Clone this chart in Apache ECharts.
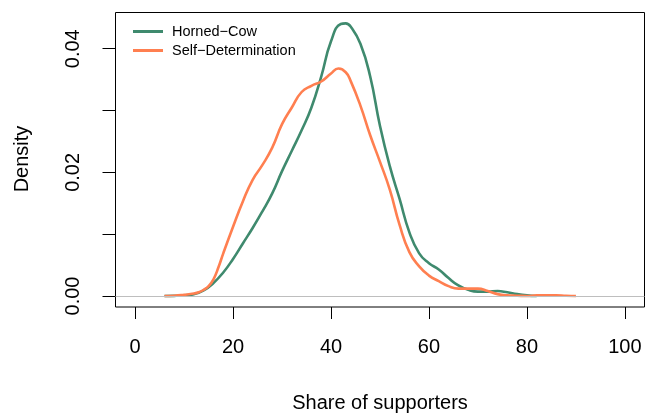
<!DOCTYPE html>
<html>
<head>
<meta charset="utf-8">
<script src="https://cdn.jsdelivr.net/npm/echarts@6/dist/echarts.min.js"></script>
<style>
html,body{margin:0;padding:0;background:#fff;}
#chart{width:647px;height:414px;}
</style>
</head>
<body>
<div id="chart"></div>
<script>
// ---- data ----
const seriesNames = ["Horned\u2212Cow", "Self\u2212Determination"];
const hornedCowX = [6, 8, 10, 12, 14, 16, 18, 20, 22, 24, 26, 28, 30, 32, 34, 36, 38, 40, 42, 43, 44, 46, 48, 50, 52, 54, 56, 58, 60, 62, 64, 66, 68, 70, 72, 74, 76, 78, 80, 82];
const hornedCowY = [0, 0.00002, 0.0001, 0.0003, 0.0009, 0.0021, 0.0038, 0.006, 0.0085, 0.011, 0.0137, 0.0166, 0.0202, 0.0235, 0.0268, 0.0305, 0.0355, 0.0412, 0.0440, 0.0441, 0.0436, 0.0408, 0.0355, 0.0275, 0.0210, 0.0157, 0.0103, 0.0069, 0.0053, 0.0043, 0.0029, 0.0017, 0.0010, 0.0007, 0.0007, 0.0008, 0.0006, 0.0003, 0.0001, 0];
const selfDetX = [6, 8, 10, 12, 13, 14, 15, 16, 17, 18, 20, 22, 24, 26, 28, 30, 32, 34, 36, 38, 40, 41.5, 43, 44, 46, 48, 50, 52, 54, 56, 58, 60, 62, 64, 66, 68, 70, 72, 74, 76, 78, 80, 82, 84, 86, 88, 90];
const selfDetY = [0, 0.00005, 0.0002, 0.0004, 0.0006, 0.0010, 0.0016, 0.0027, 0.0046, 0.0069, 0.0112, 0.0153, 0.0188, 0.0212, 0.0240, 0.0278, 0.0305, 0.0330, 0.0340, 0.0347, 0.0360, 0.0368, 0.0362, 0.0348, 0.0308, 0.0260, 0.0217, 0.0172, 0.0115, 0.0071, 0.0048, 0.0033, 0.0024, 0.0016, 0.0012, 0.0012, 0.0012, 0.0008, 0.0003, 0.0001, 0.00005, 0, 0.0001, 0.0001, 0.0001, 0.00003, 0];
const xTicks = [0, 20, 40, 60, 80, 100];
const yTicks = [0, 0.01, 0.02, 0.03, 0.04];
const yLabels = [0, 0.02, 0.04];
const xTitle = "Share of supporters";
const yTitle = "Density";

const FONT = '"Liberation Sans", Arial, Helvetica, sans-serif';
const colors = ["#3f8a6e", "#ff7f50"];

function zip(xs, ys) { return xs.map((x, i) => [x, ys[i]]); }

const chart = echarts.init(document.getElementById('chart'), null, {renderer: 'canvas'});
chart.setOption({
  animation: false,
  backgroundColor: '#ffffff',
  grid: {
    left: 115.5, top: 12.5, width: 529, height: 294.5,
    show: true, borderColor: '#000', borderWidth: 1, backgroundColor: 'transparent'
  },
  xAxis: {
    type: 'value', min: -4, max: 104,
    axisLine: {show: false, onZero: false},
    splitLine: {show: false},
    axisTick: {show: true, inside: false, length: 12, customValues: xTicks, lineStyle: {color: '#000', width: 1}},
    axisLabel: {show: true, customValues: xTicks, margin: 30, fontSize: 20, color: '#000', fontFamily: FONT}
  },
  yAxis: {
    type: 'value', min: -0.00178, max: 0.04586,
    axisLine: {show: false, onZero: false},
    splitLine: {show: false},
    axisTick: {show: true, inside: false, length: 13, customValues: yTicks, lineStyle: {color: '#000', width: 1}},
    axisLabel: {show: true, customValues: yLabels, rotate: 90, margin: 32, fontSize: 20, color: '#000', fontFamily: FONT,
      formatter: v => Number(v).toFixed(2)}
  },
  legend: {
    data: seriesNames,
    orient: 'vertical',
    left: 128, top: 18,
    icon: 'rect',
    itemWidth: 30, itemHeight: 3,
    itemGap: 2,
    textStyle: {fontSize: 14.5, color: '#000', fontFamily: FONT, lineHeight: 17, padding: [0, 0, 0, 4]}
  },
  graphic: [
    {type: 'text', x: 380, y: 403, style: {text: xTitle, font: '20px ' + FONT, fill: '#000', align: 'center', verticalAlign: 'middle'}},
    {type: 'text', rotation: Math.PI / 2, x: 22, y: 159, style: {text: yTitle, font: '20px ' + FONT, fill: '#000', align: 'center', verticalAlign: 'middle'}}
  ],
  series: [
    {
      name: 'zero', type: 'line', data: [], silent: true, z: 1,
      markLine: {silent: true, symbol: ['none', 'none'], label: {show: false},
        lineStyle: {color: '#bebebe', type: 'solid', width: 1},
        data: [{yAxis: 0}]}
    },
    {
      name: seriesNames[0], type: 'line', data: zip(hornedCowX, hornedCowY), z: 2,
      showSymbol: false, symbol: 'none', smooth: 0.5,
      lineStyle: {color: colors[0], width: 2.6}, itemStyle: {color: colors[0]}
    },
    {
      name: seriesNames[1], type: 'line', data: zip(selfDetX, selfDetY), z: 3,
      showSymbol: false, symbol: 'none', smooth: 0.5,
      lineStyle: {color: colors[1], width: 2.6}, itemStyle: {color: colors[1]}
    }
  ]
});
</script>
</body>
</html>
